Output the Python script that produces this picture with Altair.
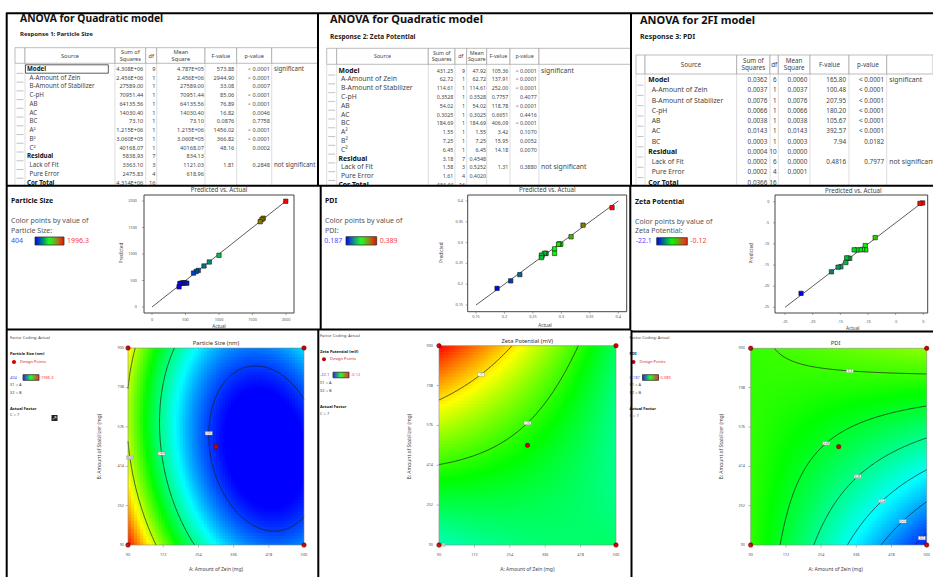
import numpy as np
import pandas as pd
import altair as alt

alt.data_transformers.disable_max_rows()
FONT = "Noto Sans"

# ======================= DATA =======================
quad_sources = ["Model", "A-Amount of Zein", "B-Amount of Stabilizer", "C-pH", "AB", "AC", "BC",
                "A²", "B²", "C²", "Residual", "Lack of Fit", "Pure Error", "Cor Total"]
fi_sources = ["Model", "A-Amount of Zein", "B-Amount of Stabilizer", "C-pH", "AB", "AC", "BC",
              "Residual", "Lack of Fit", "Pure Error", "Cor Total"]
bold_sources = ["Model", "Residual", "Cor Total"]

ps_ss = ["4.308E+06", "2.456E+06", "27589.00", "70951.44", "64135.56", "14030.40", "73.10",
         "1.215E+06", "3.060E+05", "40168.07", "5838.93", "3363.10", "2475.83", "4.314E+06"]
ps_df = ["9", "1", "1", "1", "1", "1", "1", "1", "1", "1", "7", "3", "4", "16"]
ps_ms = ["4.787E+05", "2.456E+06", "27589.00", "70951.44", "64135.56", "14030.40", "73.10",
         "1.215E+06", "3.060E+05", "40168.07", "834.13", "1121.03", "618.96", ""]
ps_f = ["573.88", "2944.90", "33.08", "85.06", "76.89", "16.82", "0.0876", "1456.02", "366.82",
        "48.16", "", "1.81", "", ""]
ps_p = ["< 0.0001", "< 0.0001", "0.0007", "< 0.0001", "< 0.0001", "0.0046", "0.7758", "< 0.0001",
        "< 0.0001", "0.0002", "", "0.2848", "", ""]
ps_note = ["significant", "", "", "", "", "", "", "", "", "", "", "not significant", "", ""]

zp_ss = ["431.25", "62.72", "114.61", "0.3528", "54.02", "0.3025", "184.69", "1.55", "7.25", "6.45",
         "3.18", "1.58", "1.61", "434.44"]
zp_df = ["9", "1", "1", "1", "1", "1", "1", "1", "1", "1", "7", "3", "4", "16"]
zp_ms = ["47.92", "62.72", "114.61", "0.3528", "54.02", "0.3025", "184.69", "1.55", "7.25", "6.45",
         "0.4548", "0.5252", "0.4020", ""]
zp_f = ["105.36", "137.91", "252.00", "0.7757", "118.78", "0.6651", "406.09", "3.42", "15.95", "14.18",
        "", "1.31", "", ""]
zp_p = ["< 0.0001", "< 0.0001", "< 0.0001", "0.4077", "< 0.0001", "0.4416", "< 0.0001", "0.1070",
        "0.0052", "0.0070", "", "0.3880", "", ""]
zp_note = ["significant", "", "", "", "", "", "", "", "", "", "", "not significant", "", ""]

pdi_ss = ["0.0362", "0.0037", "0.0076", "0.0066", "0.0038", "0.0143", "0.0003", "0.0004", "0.0002",
          "0.0002", "0.0366"]
pdi_df = ["6", "1", "1", "1", "1", "1", "1", "10", "6", "4", "16"]
pdi_ms = ["0.0060", "0.0037", "0.0076", "0.0066", "0.0038", "0.0143", "0.0003", "0.0000", "0.0000",
          "0.0001", ""]
pdi_f = ["165.80", "100.48", "207.95", "180.20", "105.67", "392.57", "7.94", "", "0.4816", "", ""]
pdi_p = ["< 0.0001", "< 0.0001", "< 0.0001", "< 0.0001", "< 0.0001", "< 0.0001", "0.0182", "",
         "0.7977", "", ""]
pdi_note = ["significant", "", "", "", "", "", "", "", "not significant", "", ""]

# Predicted vs actual
ps_actual = [1996.3, 1660, 1640, 1615, 1000, 855, 776, 690, 660, 620, 520, 490, 470, 450, 430, 415, 404]
ps_pred = [1995, 1675, 1650, 1610, 975, 849, 774, 690, 670, 640, 450, 455, 455, 450, 450, 440, 380]
pdi_actual = [0.389, 0.338, 0.317, 0.299, 0.296, 0.295, 0.288, 0.288, 0.273, 0.272, 0.270, 0.266,
              0.265, 0.265, 0.227, 0.211, 0.187]
pdi_pred = [0.384, 0.342, 0.314, 0.296, 0.297, 0.296, 0.285, 0.274, 0.274, 0.274, 0.274, 0.268,
            0.270, 0.264, 0.223, 0.208, 0.190]
zeta_actual = [-0.12, -0.6, -8.7, -10.5, -10.4, -11.0, -11.4, -12.0, -12.5, -13.3, -13.6, -13.85,
               -14.0, -14.9, -15.4, -16.6, -22.1]
zeta_pred = [-0.3, -0.4, -8.5, -10.4, -11.4, -11.3, -11.4, -11.4, -11.4, -13.4, -13.4, -13.3,
             -14.4, -15.4, -15.5, -16.6, -21.7]

# Response surfaces (coded A, B; C held at 7): b0, A, B, AB, A², B²
ps_coef = [455.0, -554.0, -58.7, 126.6, 500.0, 290.0]
zeta_coef = [-10.9, -2.8, 3.78, -3.67, -0.5, 1.0]
pdi_coef = [0.276, -0.0215, 0.0308, 0.0308, 0.0, 0.0]
ps_levels = [500, 1000, 1500]
zeta_levels = [-15, -10, -5]
pdi_levels = [0.20, 0.22, 0.24, 0.26, 0.28, 0.30]
ps_lab = ([98.6, 172, 277], [449, 469.5, 549], [1500, 1000, 500], ["1500", "1000", "500"])
zeta_lab = ([181, 285, 101.6], [794, 609, 107], [-5, -10, -15], ["-5", "-10", "-15"])
pdi_lab = ([319.7, 257.7, 335, 393, 441.8, 484.4], [827, 522, 383, 276, 193, 124],
           [0.30, 0.28, 0.26, 0.24, 0.22, 0.20], ["0.3", "0.28", "0.26", "0.24", "0.22", "0.2"])
A_ticks = [90, 172, 254, 336, 418, 500]
B_ticks = [90, 252, 414, 576, 738, 900]
design_A = [90, 500, 90, 500, 295]
design_B = [90, 90, 900, 900, 495]

RAINBOW = ["#0000ff", "#00ffff", "#00ff00", "#ffff00", "#ff0000"]
BGR = ["#0000ff", "#00ff00", "#ff0000"]

# ======================= HELPERS =======================
ONE = pd.DataFrame({"k": [0]})


def T(s, x, y, size=6.0, color="#333333", weight="normal", align="left", angle=None, baseline="middle"):
    kw = dict(text=s, fontSize=size, color=color, fontWeight=weight, align=align, baseline=baseline, font=FONT)
    if angle is not None:
        kw["angle"] = angle
    return alt.Chart(ONE).mark_text(**kw).encode(x=alt.value(x), y=alt.value(y))


def R(x0, x1, y0, y1, fill="white", stroke=None, sw=1.0, fo=1.0):
    kw = dict(fill=fill, fillOpacity=fo)
    if stroke:
        kw.update(stroke=stroke, strokeWidth=sw)
    else:
        kw.update(strokeWidth=0)
    return alt.Chart(ONE).mark_rect(**kw).encode(x=alt.value(x0), x2=alt.value(x1),
                                                 y=alt.value(y0), y2=alt.value(y1))


def L(x0, y0, x1, y1, color="#000000", sw=1.0):
    return alt.Chart(ONE).mark_rule(color=color, strokeWidth=sw).encode(
        x=alt.value(x0), y=alt.value(y0), x2=alt.value(x1), y2=alt.value(y1))


def lin(domain, rng):
    return alt.Scale(domain=list(domain), range=list(rng), nice=False, zero=False)


def gradient(x0, x1, y0, y1, rng, n=30):
    g = np.linspace(0, 1, n + 1)[:-1]
    df = pd.DataFrame({"g": g, "g2": np.minimum(g + 1.3 / n, 1.0), "gm": g + 0.5 / n})
    cs = alt.Scale(domain=list(np.linspace(0, 1, len(rng))), range=rng, interpolate="rgb")
    bar = alt.Chart(df).mark_rect(strokeWidth=0).encode(
        x=alt.X("g:Q", scale=lin((0, 1), (x0, x1)), axis=None), x2="g2:Q",
        y=alt.value(y0), y2=alt.value(y1), color=alt.Color("gm:Q", scale=cs, legend=None))
    return [bar, R(x0, x1, y0, y1, fo=0, stroke="#333333", sw=0.8)]


def surface(c):
    def f(A, B):
        a = (A - 295.0) / 205.0
        b = (B - 495.0) / 405.0
        return c[0] + c[1] * a + c[2] * b + c[3] * a * b + c[4] * a * a + c[5] * b * b
    return f


def march(f, levels, na=80, nb=90):
    A = np.linspace(90, 500, na)
    B = np.linspace(90, 900, nb)
    AA, BB = np.meshgrid(A, B)
    Z = f(AA, BB)
    rows = []
    for lev in levels:
        for j in range(nb - 1):
            for i in range(na - 1):
                c = [(A[i], B[j], Z[j, i]), (A[i + 1], B[j], Z[j, i + 1]),
                     (A[i + 1], B[j + 1], Z[j + 1, i + 1]), (A[i], B[j + 1], Z[j + 1, i])]
                pts = []
                for k in range(4):
                    a1, b1, z1 = c[k]
                    a2, b2, z2 = c[(k + 1) % 4]
                    if (z1 - lev) * (z2 - lev) < 0:
                        t = (lev - z1) / (z2 - z1)
                        pts.append((a1 + t * (a2 - a1), b1 + t * (b2 - b1)))
                if len(pts) >= 2:
                    rows.append((pts[0][0], pts[0][1], pts[1][0], pts[1][1], lev))
                if len(pts) == 4:
                    rows.append((pts[2][0], pts[2][1], pts[3][0], pts[3][1], lev))
    return pd.DataFrame(rows, columns=["a1", "b1", "a2", "b2", "lev"]).round(3)


# ======================= TABLES =======================
def table(cfg, sources, cols, note):
    layers = []
    n = len(sources)
    df = pd.DataFrame({"row": np.arange(n), "src": sources, "c0": cols[0], "c1": cols[1], "c2": cols[2],
                       "c3": cols[3], "c4": cols[4], "note": note,
                       "bold": [s in bold_sources for s in sources]})
    ys = lin((0, n - 1), (cfg["y0"], cfg["y0"] + cfg["dy"] * (n - 1)))
    Y = alt.Y("row:Q", scale=ys, axis=None)
    bnd = cfg["bounds"]
    hy0, hy1 = cfg["hy"]
    fs = cfg["fs"]
    vfs = cfg["vfs"]
    layers.append(T(cfg["title"], *cfg["title_xy"], size=cfg["tsize"], color="#111111", weight="bold"))
    layers.append(T(cfg["resp"], *cfg["resp_xy"], size=cfg["rsize"], color="#222222", weight="bold"))
    for xb in bnd[:-1]:
        layers.append(L(xb, hy1, xb, cfg["bottom"], "#d0d0d0", 0.7))
    for k in range(len(bnd) - 1):
        layers.append(R(bnd[k], bnd[k + 1], hy0, hy1, fill="white", stroke="#a0a0a0", sw=0.7))
    heads = [None, ["Source"], ["Sum of", "Squares"], ["df"], ["Mean", "Square"], ["F-value"], ["p-value"]]
    hm = (hy0 + hy1) / 2
    for k, h in enumerate(heads):
        if not h:
            continue
        xc = (bnd[k] + bnd[k + 1]) / 2
        if len(h) == 1:
            layers.append(T(h[0], xc, hm, size=vfs, color="#444444", align="center"))
        else:
            lh = vfs * 1.2
            layers.append(T(h[0], xc, hm - lh / 2, size=vfs, color="#444444", align="center"))
            layers.append(T(h[1], xc, hm + lh / 2, size=vfs, color="#444444", align="center"))
    sep = pd.DataFrame({"rb": np.arange(n) + 0.5})
    layers.append(alt.Chart(sep).mark_rule(color="#9a9a9a", strokeWidth=0.6).encode(
        x=alt.value(bnd[0] + 1.5), x2=alt.value(bnd[1] - 1.5), y=alt.Y("rb:Q", scale=ys, axis=None)))
    layers.append(alt.Chart(df).transform_filter("datum.bold").mark_text(
        align="left", fontWeight="bold", color="#111111", fontSize=fs, font=FONT, baseline="middle").encode(
        x=alt.value(cfg["src_x"]), y=Y, text="src:N"))
    layers.append(alt.Chart(df).transform_filter("!datum.bold").mark_text(
        align="left", color="#444444", fontSize=fs, font=FONT, baseline="middle").encode(
        x=alt.value(cfg["sub_x"]), y=Y, text="src:N"))
    for k in range(5):
        layers.append(alt.Chart(df).mark_text(align="right", color="#444444", fontSize=vfs, font=FONT,
                                              baseline="middle").encode(
            x=alt.value(cfg["right"][k]), y=Y, text=f"c{k}:N"))
    layers.append(alt.Chart(df).mark_text(align="left", color="#444444", fontSize=fs, font=FONT,
                                          baseline="middle").encode(
        x=alt.value(cfg["note_x"]), y=Y, text="note:N"))
    return layers


T1 = dict(title="ANOVA for Quadratic model", title_xy=(20, 18.5), tsize=10.3,
          resp="Response 1: Particle Size", resp_xy=(20, 34), rsize=6,
          bounds=[15, 25, 115, 145.7, 156.7, 205, 236.7, 271.7, 318], hy=(47.7, 63.3),
          y0=69, dy=8.74, bottom=186, src_x=27, sub_x=29.5,
          right=[143.3, 155.5, 204, 234.3, 270], note_x=274, fs=6.2, vfs=5.6)
T2 = dict(title="ANOVA for Quadratic model", title_xy=(330, 20), tsize=11,
          resp="Response 2: Zeta Potential", resp_xy=(330, 36.7), rsize=6.5,
          bounds=[326.7, 336.7, 428.3, 455, 466.7, 486.7, 510, 539, 631], hy=(48.3, 64.3),
          y0=70.7, dy=8.78, bottom=186, src_x=338.5, sub_x=341,
          right=[453.3, 465, 486, 508.3, 536.7], note_x=541, fs=6.8, vfs=5.3)
T3 = dict(title="ANOVA for 2FI model", title_xy=(640, 20.7), tsize=11,
          resp="Response 3: PDI", resp_xy=(640, 36.7), rsize=7,
          bounds=[636, 645, 736.7, 770, 778.3, 810, 849, 886.7, 933], hy=(55, 74),
          y0=80, dy=10.27, bottom=186, src_x=648.3, sub_x=651.7,
          right=[767.3, 776.7, 807.3, 846, 884], note_x=889.3, fs=6.8, vfs=6.3)

layers = []
layers += table(T1, quad_sources, [ps_ss, ps_df, ps_ms, ps_f, ps_p], ps_note)
layers.append(R(25.5, 108.3, 64.8, 73.2, fo=0, stroke="#333333", sw=0.8))
layers.append(R(317, 933, 0, 186))
layers += table(T2, quad_sources, [zp_ss, zp_df, zp_ms, zp_f, zp_p], zp_note)
layers.append(R(631, 933, 0, 186))
layers += table(T3, fi_sources, [pdi_ss, pdi_df, pdi_ms, pdi_f, pdi_p], pdi_note)
layers.append(R(0, 933, 186.2, 577))


# ======================= PREDICTED vs ACTUAL =======================
def scatter(cfg, actual, pred):
    out = []
    sx = lin(cfg["dom"], cfg["xr"])
    sy = lin(cfg["dom"], cfg["yr"])
    fx0, fx1, fy0, fy1 = cfg["frame"]
    out.append(R(fx0, fx1, fy0, fy1, fill="white", stroke="#444444", sw=1.0))
    d0, d1 = cfg["dom"]
    diag = pd.DataFrame({"x": [d0, d1], "y": [d0, d1]})
    out.append(alt.Chart(diag).mark_line(color="#333333", strokeWidth=0.8).encode(
        x=alt.X("x:Q", scale=sx, axis=None), y=alt.Y("y:Q", scale=sy, axis=None)))
    lo, hi = cfg["lo"], cfg["hi"]
    cs = alt.Scale(domain=[lo, (lo + hi) / 2, hi], range=BGR, interpolate="rgb", clamp=True)
    pts = pd.DataFrame({"actual": actual, "pred": pred})
    out.append(alt.Chart(pts).mark_square(size=19, opacity=1, stroke="#1a1a1a", strokeWidth=0.6).encode(
        x=alt.X("actual:Q", scale=sx, axis=None), y=alt.Y("pred:Q", scale=sy, axis=None),
        color=alt.Color("actual:Q", scale=cs, legend=None)))
    tk = pd.DataFrame({"t": cfg["ticks"], "lab": cfg["tick_labels"]})
    out.append(alt.Chart(tk).mark_text(fontSize=3.8, color="#555555", font=FONT, baseline="middle").encode(
        x=alt.X("t:Q", scale=sx, axis=None), y=alt.value(cfg["xlab_y"]), text="lab:N"))
    out.append(alt.Chart(tk).mark_rule(color="#555555", strokeWidth=0.5).encode(
        x=alt.X("t:Q", scale=sx, axis=None), y=alt.value(fy1), y2=alt.value(fy1 + 2)))
    out.append(alt.Chart(tk).mark_text(fontSize=3.8, color="#555555", font=FONT, align="right",
                                       baseline="middle").encode(
        x=alt.value(cfg["ylab_x"]), y=alt.Y("t:Q", scale=sy, axis=None), text="lab:N"))
    out.append(alt.Chart(tk).mark_rule(color="#555555", strokeWidth=0.5).encode(
        x=alt.value(fx0 - 2), x2=alt.value(fx0), y=alt.Y("t:Q", scale=sy, axis=None)))
    out.append(T("Predicted vs. Actual", *cfg["title_xy"], size=6.2, color="#444444", align="center"))
    out.append(T("Actual", *cfg["xtitle_xy"], size=4.6, color="#444444", align="center"))
    out.append(T("Predicted", *cfg["ytitle_xy"], size=4.6, color="#444444", align="center", angle=270))
    lx = cfg["leg_x"]
    out.append(T(cfg["name"], lx, cfg["name_y"], size=7, color="#111111", weight="bold"))
    out.append(T("Color points by value of", lx, cfg["name_y"] + 20, size=7, color="#555555"))
    out.append(T(cfg["name"] + ":", lx, cfg["name_y"] + 29.5, size=7, color="#555555"))
    g = cfg["grad"]
    gy = (g[2] + g[3]) / 2
    out += gradient(*g, BGR)
    out.append(T(cfg["lo_txt"], cfg["lo_x"], gy, size=7, color="#4a4aff"))
    out.append(T(cfg["hi_txt"], g[1] + 3, gy, size=7, color="#ff3a3a"))
    return out


S1 = dict(dom=(0, 2000), xr=(152, 286), yr=(307, 201), frame=(144, 294, 195, 313),
          ticks=[0, 500, 1000, 1500, 2000], tick_labels=["0", "500", "1000", "1500", "2000"],
          xlab_y=320, ylab_x=137, title_xy=(219, 190), xtitle_xy=(219, 327), ytitle_xy=(122, 253),
          name="Particle Size", lo=404, hi=1996.3, lo_txt="404", hi_txt="1996.3", leg_x=11, name_y=201,
          grad=(35, 64, 237, 245), lo_x=11)
S2 = dict(dom=(0.15, 0.4), xr=(476, 618.3), yr=(305, 201), frame=(467.7, 626.7, 195, 311.7),
          ticks=[0.15, 0.2, 0.25, 0.3, 0.35, 0.4], tick_labels=["0.15", "0.2", "0.25", "0.3", "0.35", "0.4"],
          xlab_y=316.7, ylab_x=463, title_xy=(547.3, 190), xtitle_xy=(545, 325.7), ytitle_xy=(441.7, 252.7),
          name="PDI", lo=0.187, hi=0.389, lo_txt="0.187", hi_txt="0.389", leg_x=325, name_y=201,
          grad=(346, 376.7, 236.7, 245), lo_x=324.3)
S3 = dict(dom=(-25, 0), xr=(785, 923.3), yr=(307.3, 201.7), frame=(775, 927.7, 195, 313),
          ticks=[-25, -20, -15, -10, -5, 0], tick_labels=["-25", "-20", "-15", "-10", "-5", "0"],
          xlab_y=321.7, ylab_x=769.3, title_xy=(853.3, 190.7), xtitle_xy=(852.7, 329), ytitle_xy=(751.7, 253.3),
          name="Zeta Potential", lo=-22.1, hi=-0.12, lo_txt="-22.1", hi_txt="-0.12", leg_x=635, name_y=201.7,
          grad=(656.7, 687.3, 237.7, 245), lo_x=635.7)

layers += scatter(S1, ps_actual, ps_pred)
layers += scatter(S2, pdi_actual, pdi_pred)
layers += scatter(S3, zeta_actual, zeta_pred)


# ======================= CONTOUR PLOTS =======================
def contour_panel(cfg, coef, levels, lab, lo, hi):
    out = []
    fx0, fx1, fy0, fy1 = cfg["frame"]
    sx = lin((90, 500), (fx0, fx1))
    sy = lin((90, 900), (fy1, fy0))
    X = lambda fld: alt.X(fld, scale=sx, axis=None)
    Yc = lambda fld: alt.Y(fld, scale=sy, axis=None)
    f = surface(coef)
    NA, NB = 58, 65
    Ae = np.linspace(90, 500, NA + 1)
    Be = np.linspace(90, 900, NB + 1)
    dA, dB = Ae[1] - Ae[0], Be[1] - Be[0]
    a0, b0 = np.meshgrid(Ae[:-1], Be[:-1])
    a0 = a0.ravel()
    b0 = b0.ravel()
    v = f(a0 + dA / 2, b0 + dB / 2)
    hdf = pd.DataFrame({"a0": a0.round(2), "a1": np.minimum(a0 + dA * 1.35, 500).round(2),
                        "b0": b0.round(2), "b1": np.minimum(b0 + dB * 1.35, 900).round(2),
                        "v": np.round(v, 5)})
    cs = alt.Scale(domain=list(np.linspace(lo, hi, 5)), range=RAINBOW, interpolate="rgb", clamp=True)
    out.append(alt.Chart(hdf).mark_rect(strokeWidth=0).encode(
        x=X("a0:Q"), x2="a1:Q", y=Yc("b0:Q"), y2="b1:Q", color=alt.Color("v:Q", scale=cs, legend=None)))
    segs = march(f, levels)
    out.append(alt.Chart(segs).mark_rule(color="#1e1e1e", strokeWidth=0.7).encode(
        x=X("a1:Q"), y=Yc("b1:Q"), x2="a2:Q", y2="b2:Q"))
    la, lb, llev, ltxt = lab
    pa, pb = [], []
    for A, B, lev in zip(la, lb, llev):
        s = segs[np.isclose(segs["lev"], lev)]
        ma = ((s["a1"] + s["a2"]) / 2).to_numpy()
        mb = ((s["b1"] + s["b2"]) / 2).to_numpy()
        d = ((ma - A) / 410 * 176) ** 2 + ((mb - B) / 810 * 197) ** 2
        k = int(np.argmin(d))
        pa.append(ma[k])
        pb.append(mb[k])
    ldf = pd.DataFrame({"a": pa, "b": pb, "t": ltxt})
    out.append(alt.Chart(ldf).mark_point(shape="M-1,-0.5L1,-0.5L1,0.5L-1,0.5Z", size=49, filled=True,
                                         fill="white", stroke="#888888", strokeWidth=0.4, opacity=1).encode(
        x=X("a:Q"), y=Yc("b:Q")))
    out.append(alt.Chart(ldf).mark_text(fontSize=2.8, color="#555555", font=FONT, baseline="middle").encode(
        x=X("a:Q"), y=Yc("b:Q"), text="t:N"))
    out.append(R(fx0, fx1, fy0, fy1, fo=0, stroke="#8a8a8a", sw=0.6))
    dp = pd.DataFrame({"A": design_A, "B": design_B})
    out.append(alt.Chart(dp).mark_circle(size=20, color="#cc0000", stroke="#660000", strokeWidth=0.5,
                                         opacity=1).encode(x=X("A:Q"), y=Yc("B:Q")))
    ta = pd.DataFrame({"t": A_ticks, "lab": [str(t) for t in A_ticks]})
    tb = pd.DataFrame({"t": B_ticks, "lab": [str(t) for t in B_ticks]})
    out.append(alt.Chart(ta).mark_text(fontSize=3.8, color="#555555", font=FONT, baseline="middle").encode(
        x=X("t:Q"), y=alt.value(555), text="lab:N"))
    out.append(alt.Chart(ta).mark_rule(color="#777777", strokeWidth=0.5).encode(
        x=X("t:Q"), y=alt.value(fy1), y2=alt.value(fy1 + 2.5)))
    out.append(alt.Chart(tb).mark_text(fontSize=3.8, color="#555555", font=FONT, align="right",
                                       baseline="middle").encode(
        x=alt.value(cfg["ylab_x"]), y=Yc("t:Q"), text="lab:N"))
    out.append(alt.Chart(tb).mark_rule(color="#777777", strokeWidth=0.5).encode(
        x=alt.value(fx0 - 2.5), x2=alt.value(fx0), y=Yc("t:Q")))
    out.append(T(cfg["title"], *cfg["title_xy"], size=5.8, color="#333333", align="center"))
    out.append(T("A: Amount of Zein (mg)", *cfg["xtitle_xy"], size=5, color="#444444", align="center"))
    out.append(T("B: Amount of Stabilizer (mg)", *cfg["ytitle_xy"], size=5, color="#444444",
                 align="center", angle=270))
    x0 = cfg["leg_x"]
    ly = cfg["leg_y"]
    out.append(T("Factor Coding: Actual", x0, ly[0], size=4, color="#444444"))
    out.append(T(cfg["name"], x0, ly[1], size=4, color="#111111", weight="bold"))
    out.append(alt.Chart(ONE).mark_circle(size=16, color="#cc0000", opacity=1).encode(
        x=alt.value(x0 + 4), y=alt.value(ly[2])))
    out.append(T("Design Points", x0 + 10, ly[2], size=4, color="#d02020"))
    out += gradient(x0 + 13, x0 + 29, ly[3] - 2.8, ly[3] + 2.8, BGR)
    out.append(T(cfg["lo_txt"], x0, ly[3], size=4, color="#4a4aff"))
    out.append(T(cfg["hi_txt"], x0 + 31, ly[3], size=4, color="#ff3a3a"))
    out.append(T("X1 = A", x0, ly[4], size=4, color="#444444"))
    out.append(T("X2 = B", x0, ly[5], size=4, color="#444444"))
    out.append(T("Actual Factor", x0, ly[6], size=4, color="#111111", weight="bold"))
    out.append(T("C = 7", x0, ly[7], size=4, color="#444444"))
    return out


C1 = dict(frame=(128, 304, 348, 545), title="Particle Size (nm)", title_xy=(216, 343), ylab_x=124,
          xtitle_xy=(216, 569.3), ytitle_xy=(99, 446.7), leg_x=10, name="Particle Size (nm)",
          lo_txt="404", hi_txt="1996.3", leg_y=[338, 354, 362, 377.5, 385, 393, 409, 415])
C2 = dict(frame=(439, 616, 345.7, 545), title="Zeta Potential (mV)", title_xy=(527.3, 340.5), ylab_x=433,
          xtitle_xy=(527.3, 569.3), ytitle_xy=(409.3, 446.7), leg_x=320, name="Zeta Potential (mV)",
          lo_txt="-22.1", hi_txt="-0.12", leg_y=[336, 351.7, 359.3, 375, 382.7, 390.7, 406.7, 414.3])
C3 = dict(frame=(750.7, 926.7, 348.3, 545), title="PDI", title_xy=(835.7, 342.7), ylab_x=745,
          xtitle_xy=(835.7, 569.3), ytitle_xy=(720.7, 446.7), leg_x=629.5, name="PDI",
          lo_txt="0.187", hi_txt="0.389", leg_y=[338, 354, 362, 377.5, 385, 392.7, 409, 416])

layers += contour_panel(C1, ps_coef, ps_levels, ps_lab, 404, 1996.3)
layers.append(R(51.5, 57.5, 415, 421, fill="#222222"))
layers.append(T("↗", 54.5, 418, size=5.5, color="white", align="center"))
layers += contour_panel(C2, zeta_coef, zeta_levels, zeta_lab, -22.1, -0.12)
layers += contour_panel(C3, pdi_coef, pdi_levels, pdi_lab, 0.187, 0.389)

# ======================= PANEL BORDERS =======================
BW = 2.0
for seg in [(6, 13.3, 933, 13.3), (6.7, 13, 6.7, 577), (318, 13, 318, 185.7), (631, 13, 631, 185.7),
            (6, 185.7, 933, 185.7), (320.7, 185.7, 320.7, 330), (630.3, 185.7, 630.3, 330),
            (6, 329.6, 631, 329.6), (631, 331.5, 933, 331.5), (318.3, 329.6, 318.3, 577),
            (631.5, 330, 631.5, 577)]:
    layers.append(L(*seg, color="#000000", sw=BW))

chart = alt.layer(*layers).resolve_scale(
    x="independent", y="independent", color="independent"
).properties(
    width=933, height=577, padding=0, background="white",
    autosize=alt.AutoSizeParams(type="none"),
).configure_view(stroke=None)

chart.save("out.html", embed_options={"renderer": "svg", "actions": False})
